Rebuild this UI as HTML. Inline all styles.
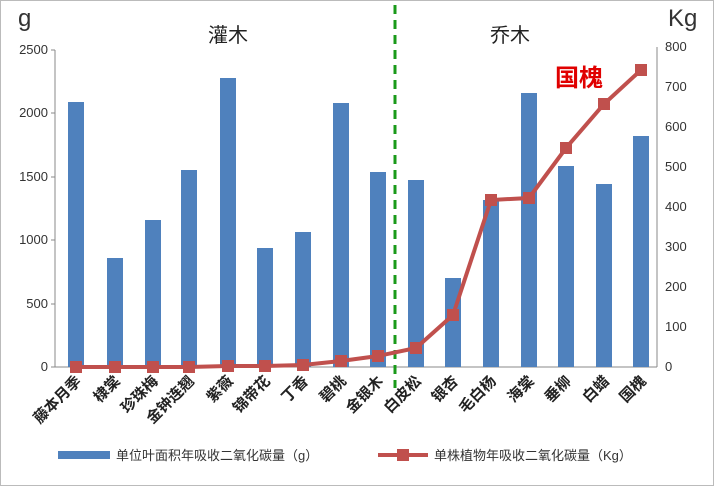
<!DOCTYPE html>
<html><head><meta charset="utf-8"><style>
body{margin:0;background:#fff}
svg text{font-family:"Liberation Sans","Noto Sans CJK SC",sans-serif}
</style></head><body>
<svg width="714" height="486" viewBox="0 0 714 486" xmlns="http://www.w3.org/2000/svg">
<rect x="0.5" y="0.5" width="713" height="485" fill="#fff" stroke="#bbb"/>
<g fill="#333">
<text x="18" y="26" font-size="24">g</text>
<text x="668" y="26" font-size="24">Kg</text>
</g>
<line x1="55" y1="50" x2="55" y2="367" stroke="#888"/>
<line x1="657" y1="47" x2="657" y2="367" stroke="#888"/>
<line x1="55" y1="367" x2="657" y2="367" stroke="#888"/>
<g font-size="13" fill="#333" text-anchor="end">
<text x="48" y="371">0</text><text x="48" y="308">500</text><text x="48" y="244">1000</text>
<text x="48" y="181">1500</text><text x="48" y="117">2000</text><text x="48" y="54">2500</text>
</g>
<g stroke="#888"><line x1="51" y1="367" x2="55" y2="367"/><line x1="51" y1="304" x2="55" y2="304"/><line x1="51" y1="240" x2="55" y2="240"/><line x1="51" y1="177" x2="55" y2="177"/><line x1="51" y1="113" x2="55" y2="113"/><line x1="51" y1="50" x2="55" y2="50"/></g>
<g font-size="13" fill="#333" text-anchor="start">
<text x="665" y="371">0</text><text x="665" y="331">100</text><text x="665" y="291">200</text><text x="665" y="251">300</text>
<text x="665" y="211">400</text><text x="665" y="171">500</text><text x="665" y="131">600</text><text x="665" y="91">700</text><text x="665" y="51">800</text>
</g>
<g fill="#4f81bd">
<rect x="68" y="102" width="16" height="265"/>
<rect x="107" y="258" width="16" height="109"/>
<rect x="145" y="220" width="16" height="147"/>
<rect x="181" y="170" width="16" height="197"/>
<rect x="220" y="78" width="16" height="289"/>
<rect x="257" y="248" width="16" height="119"/>
<rect x="295" y="232" width="16" height="135"/>
<rect x="333" y="103" width="16" height="264"/>
<rect x="370" y="172" width="16" height="195"/>
<rect x="408" y="180" width="16" height="187"/>
<rect x="445" y="278" width="16" height="89"/>
<rect x="483" y="200" width="16" height="167"/>
<rect x="521" y="93" width="16" height="274"/>
<rect x="558" y="166" width="16" height="201"/>
<rect x="596" y="184" width="16" height="183"/>
<rect x="633" y="136" width="16" height="231"/>
</g>
<line x1="395" y1="5" x2="395" y2="388" stroke="#1a9a1a" stroke-width="3" stroke-dasharray="9,6"/>
<text x="228" y="42" font-size="20" fill="#222" text-anchor="middle">灌木</text>
<text x="510" y="42" font-size="20" fill="#222" text-anchor="middle">乔木</text>
<polyline fill="none" stroke="#c0504d" stroke-width="4" points="76,367 115,367 153,367 189,367 228,366 265,366 303,365 341,361 378,356 416,348 453,315 491,200 529,198 566,148 604,104 641,70"/>
<g fill="#c0504d">
<rect x="70" y="361" width="12" height="12"/><rect x="109" y="361" width="12" height="12"/><rect x="147" y="361" width="12" height="12"/><rect x="183" y="361" width="12" height="12"/><rect x="222" y="360" width="12" height="12"/><rect x="259" y="360" width="12" height="12"/><rect x="297" y="359" width="12" height="12"/><rect x="335" y="355" width="12" height="12"/><rect x="372" y="350" width="12" height="12"/><rect x="410" y="342" width="12" height="12"/><rect x="447" y="309" width="12" height="12"/><rect x="485" y="194" width="12" height="12"/><rect x="523" y="192" width="12" height="12"/><rect x="560" y="142" width="12" height="12"/><rect x="598" y="98" width="12" height="12"/><rect x="635" y="64" width="12" height="12"/>
</g>
<text x="555" y="86" font-size="24" font-weight="bold" fill="#e00000">国槐</text>
<g font-size="15" font-weight="bold" fill="#222" text-anchor="end">
<text transform="translate(82,382) rotate(-45)">藤本月季</text>
<text transform="translate(121,382) rotate(-45)">棣棠</text>
<text transform="translate(159,382) rotate(-45)">珍珠梅</text>
<text transform="translate(195,382) rotate(-45)">金钟连翘</text>
<text transform="translate(234,382) rotate(-45)">紫薇</text>
<text transform="translate(271,382) rotate(-45)">锦带花</text>
<text transform="translate(309,382) rotate(-45)">丁香</text>
<text transform="translate(347,382) rotate(-45)">碧桃</text>
<text transform="translate(384,382) rotate(-45)">金银木</text>
<text transform="translate(422,382) rotate(-45)">白皮松</text>
<text transform="translate(459,382) rotate(-45)">银杏</text>
<text transform="translate(497,382) rotate(-45)">毛白杨</text>
<text transform="translate(535,382) rotate(-45)">海棠</text>
<text transform="translate(572,382) rotate(-45)">垂柳</text>
<text transform="translate(610,382) rotate(-45)">白蜡</text>
<text transform="translate(647,382) rotate(-45)">国槐</text>
</g>
<rect x="58" y="451" width="52" height="8" fill="#4f81bd"/>
<text x="116" y="460" font-size="13" fill="#333">单位叶面积年吸收二氧化碳量（g）</text>
<line x1="378" y1="455" x2="428" y2="455" stroke="#c0504d" stroke-width="4"/>
<rect x="397" y="449" width="12" height="12" fill="#c0504d"/>
<text x="434" y="460" font-size="13" fill="#333">单株植物年吸收二氧化碳量（Kg）</text>
</svg>
</body></html>
